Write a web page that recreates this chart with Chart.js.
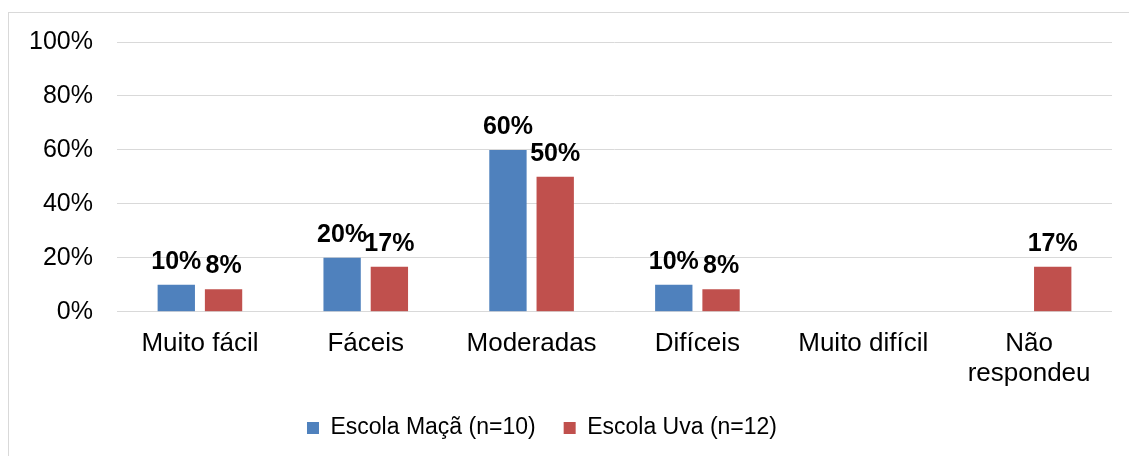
<!DOCTYPE html>
<html>
<head>
<meta charset="utf-8">
<script src="https://cdn.jsdelivr.net/npm/chart.js@4/dist/chart.umd.min.js"></script>
<style>
  html, body { margin: 0; padding: 0; background: #fff; }
  #frame { position: absolute; left: 8px; top: 12px; width: 1140px; height: 460px; border: 1px solid #d9d9d9; box-sizing: border-box; }
  #grafico { position: absolute; left: 0; top: 0; }
</style>
</head>
<body>
<div id="frame"></div>
<canvas id="grafico" width="1129" height="456"></canvas>
<script>
const categorias = ['Muito fácil', 'Fáceis', 'Moderadas', 'Difíceis', 'Muito difícil', ['Não', 'respondeu']];
const escolaMaca = [10, 20, 60, 10, 0, 0];
const escolaUva = [8.3, 16.7, 50, 8.3, 0, 16.7];
const yTicks = [0, 20, 40, 60, 80, 100];

const FONT = '"Liberation Sans", Arial, sans-serif';
const LEGEND_PAD = 28;
const LEGEND_H = 43;

// rotulos em cima das barras
const rotulosBarras = {
  id: 'rotulosBarras',
  afterDatasetsDraw(chart) {
    const ctx = chart.ctx;
    ctx.save();
    ctx.font = 'bold 25px ' + FONT;
    ctx.fillStyle = '#000';
    ctx.textAlign = 'center';
    ctx.textBaseline = 'alphabetic';
    chart.data.datasets.forEach((ds, i) => {
      const meta = chart.getDatasetMeta(i);
      meta.data.forEach((bar, j) => {
        const v = ds.data[j];
        if (!v) return;
        ctx.fillText(Math.round(v) + '%', bar.x, bar.y - 16);
      });
    });
    ctx.restore();
  }
};

// legenda com altura fixa no layout e deslocada para a posicao do original
const moverLegenda = {
  id: 'moverLegenda',
  beforeLayout(chart) {
    const lg = chart.legend;
    if (!lg || lg._fitFixo) return;
    const fit = lg.fit;
    lg.fit = function () {
      fit.call(this);
      this.height = LEGEND_H;
    };
    lg._fitFixo = true;
  },
  afterLayout(chart) {
    const lg = chart.legend;
    if (!lg) return;
    const dx = 542 - (lg.left + lg.right) / 2;
    lg.left += dx;
    lg.right += dx;
    lg.top = 428 - LEGEND_PAD - 11.5;
    lg.height = LEGEND_PAD * 2 + 23;
    lg.bottom = lg.top + lg.height;
  }
};

new Chart(document.getElementById('grafico').getContext('2d'), {
  type: 'bar',
  data: {
    labels: categorias,
    datasets: [
      { label: 'Escola Maçã (n=10)', data: escolaMaca, backgroundColor: '#4F81BD' },
      { label: 'Escola Uva (n=12)', data: escolaUva, backgroundColor: '#C0504D' }
    ]
  },
  options: {
    responsive: false,
    devicePixelRatio: 1,
    animation: false,
    categoryPercentage: 0.57,
    barPercentage: 0.79,
    layout: { padding: { top: 42, right: 17, bottom: 0, left: 0 } },
    plugins: {
      legend: {
        position: 'bottom',
        labels: {
          boxWidth: 12,
          boxHeight: 12,
          padding: LEGEND_PAD,
          color: '#000',
          font: { family: FONT, size: 23 }
        }
      },
      tooltip: { enabled: false }
    },
    scales: {
      x: {
        grid: { display: false },
        border: { display: false },
        ticks: {
          color: '#000',
          padding: 9,
          maxRotation: 0,
          autoSkip: false,
          font: { family: FONT, size: 26, lineHeight: 1.15 }
        },
        afterFit: s => { s.height = 456 - 311.7 - LEGEND_H; }
      },
      y: {
        min: 0,
        max: 100,
        afterBuildTicks: s => { s.ticks = yTicks.map(v => ({ value: v })); },
        grid: { color: '#d9d9d9', lineWidth: 1, drawTicks: false },
        border: { display: false },
        ticks: {
          color: '#000',
          padding: 24,
          font: { family: FONT, size: 25 },
          callback: v => v + '%'
        },
        afterFit: s => { s.width = 117; }
      }
    }
  },
  plugins: [rotulosBarras, moverLegenda]
});
</script>
</body>
</html>
